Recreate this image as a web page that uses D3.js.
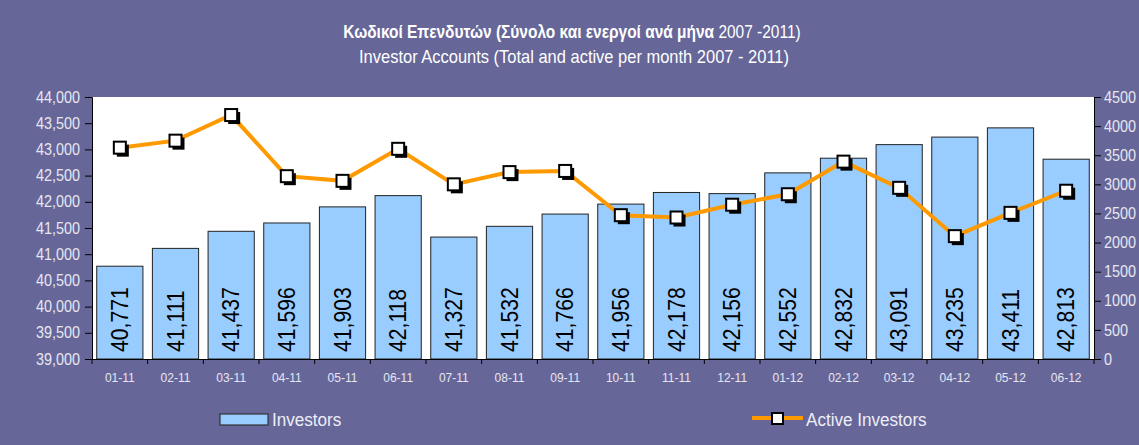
<!DOCTYPE html>
<html>
<head>
<meta charset="utf-8">
<script src="https://cdn.jsdelivr.net/npm/d3@7"></script>
<style>
  body { margin: 0; background: #666699; }
  svg text { font-family: "Liberation Sans", Arial, sans-serif; }
</style>
</head>
<body>
<div id="chart"></div>
<script>
// data
var months = ['01-11','02-11','03-11','04-11','05-11','06-11','07-11','08-11','09-11',
  '10-11','11-11','12-11','01-12','02-12','03-12','04-12','05-12','06-12'];
var investors = [40771,41111,41437,41596,41903,42118,41327,41532,41766,
  41956,42178,42156,42552,42832,43091,43235,43411,42813];
var active = [3630,3750,4190,3140,3060,3610,3000,3210,3230,
  2470,2430,2650,2830,3390,2940,2110,2510,2890];
var leftTicks = [39000,39500,40000,40500,41000,41500,42000,42500,43000,43500,44000];
var rightTicks = [0,500,1000,1500,2000,2500,3000,3500,4000,4500];

var W = 1139, H = 445;
var m = {left: 92, right: 45, top: 97, bottom: 86};
var iw = W - m.left - m.right, ih = H - m.top - m.bottom;

var svg = d3.select('#chart').append('svg')
  .attr('width', W).attr('height', H);

svg.append('rect').attr('width', W).attr('height', H).attr('fill', '#666699');

// narrow-looking text: squeeze along the text direction
function narrow(parent, x, y, sx, size) {
  return parent.append('text')
    .attr('transform', 'translate(' + x + ',' + y + ') scale(' + sx + ',1)')
    .style('font-size', size + 'px');
}

// titles
narrow(svg, 572, 38, 0.86, 18)
  .attr('text-anchor', 'middle').attr('fill', '#fff')
  .call(function(t){
    t.append('tspan').attr('font-weight', 'bold').text('Κωδικοί Επενδυτών (Σύνολο και ενεργοί ανά μήνα');
    t.append('tspan').text(' 2007 -2011)');
  });
narrow(svg, 574, 63, 0.915, 18)
  .attr('text-anchor', 'middle').attr('fill', '#fff')
  .text('Investor Accounts (Total and active per month 2007 - 2011)');

var g = svg.append('g').attr('transform', 'translate(' + m.left + ',' + m.top + ')');

g.append('rect').attr('width', iw).attr('height', ih).attr('fill', '#fff');

var x = d3.scaleBand().domain(months).range([0, iw]).paddingInner(0.17).paddingOuter(0.085);
var yL = d3.scaleLinear().domain([39000, 44000]).range([ih, 0]);
var yR = d3.scaleLinear().domain([0, 4500]).range([ih, 0]);

// bars
g.selectAll('.bar')
  .data(investors).enter()
  .append('rect')
  .attr('class', 'bar')
  .attr('x', function(d, i){ return x(months[i]); })
  .attr('y', function(d){ return yL(d); })
  .attr('width', x.bandwidth())
  .attr('height', function(d){ return ih - yL(d); })
  .attr('fill', '#99ccff')
  .attr('stroke', '#222')
  .attr('stroke-width', 1);

// bar labels
g.selectAll('.blabel')
  .data(investors).enter()
  .append('text')
  .attr('class', 'blabel')
  .attr('transform', function(d, i){
    return 'translate(' + (x(months[i]) + x.bandwidth()/2 + 8) + ',' + (ih - 7) + ') rotate(-90) scale(0.92,1)';
  })
  .attr('fill', '#000')
  .style('font-size', '23px')
  .text(function(d){ return d3.format(',')(d); });

// axes
var axL = g.append('g').call(d3.axisLeft(yL).tickValues(leftTicks).tickSize(7).tickFormat(d3.format(',')));
var axR = g.append('g').attr('transform', 'translate(' + iw + ',0)')
  .call(d3.axisRight(yR).tickValues(rightTicks).tickSize(7).tickFormat(d3.format('d')));
[axL, axR].forEach(function(a){
  a.select('.domain').attr('stroke', '#000');
  a.selectAll('.tick line').attr('stroke', '#000');
  a.selectAll('text').attr('fill', '#e6e6f2').style('font-size', '16px');
});
axL.selectAll('text').attr('x', 0).attr('transform', 'translate(-12,0) scale(0.9,1)');
axR.selectAll('text').attr('x', 0).attr('transform', 'translate(10,0) scale(0.9,1)');

// x axis
var axX = g.append('g').attr('transform', 'translate(0,' + ih + ')')
  .call(d3.axisBottom(x).tickSize(0).tickPadding(14));
axX.select('.domain').attr('stroke', '#000');
axX.selectAll('text').attr('fill', '#e6e6f2').style('font-size', '12px');
var step = x.step();
g.selectAll('.xtick')
  .data(d3.range(months.length + 1)).enter()
  .append('line')
  .attr('x1', function(i){ return x(months[0]) - x.paddingInner()*step/2 + i*step; })
  .attr('x2', function(i){ return x(months[0]) - x.paddingInner()*step/2 + i*step; })
  .attr('y1', ih).attr('y2', ih + 5)
  .attr('stroke', '#000');

// line
var cx = function(i){ return x(months[i]) + x.bandwidth()/2; };
var line = d3.line()
  .x(function(d, i){ return cx(i); })
  .y(function(d){ return yR(d); });
g.append('path').datum(active)
  .attr('d', line)
  .attr('fill', 'none')
  .attr('stroke', '#ff9900')
  .attr('stroke-width', 4);

var pts = g.selectAll('.pt').data(active).enter().append('g')
  .attr('transform', function(d, i){ return 'translate(' + cx(i) + ',' + yR(d) + ')'; });
pts.append('rect').attr('x', -3).attr('y', -3).attr('width', 12).attr('height', 12).attr('fill', '#000');
pts.append('rect').attr('x', -6).attr('y', -6).attr('width', 12).attr('height', 12)
  .attr('fill', '#fff').attr('stroke', '#000').attr('stroke-width', 2);

// legend
var lg = svg.append('g');
lg.append('rect').attr('x', 220).attr('y', 414).attr('width', 48).attr('height', 11)
  .attr('fill', '#99ccff').attr('stroke', '#333').attr('stroke-width', 1.2);
narrow(lg, 272, 426, 0.9, 19).attr('fill', '#eeeef6').text('Investors');
lg.append('line').attr('x1', 752).attr('x2', 803).attr('y1', 418).attr('y2', 418)
  .attr('stroke', '#ff9900').attr('stroke-width', 4);
lg.append('rect').attr('x', 772).attr('y', 413).attr('width', 11).attr('height', 11)
  .attr('fill', '#fff').attr('stroke', '#000').attr('stroke-width', 2);
narrow(lg, 806, 426, 0.9, 19).attr('fill', '#eeeef6').text('Active Investors');
</script>
</body>
</html>
